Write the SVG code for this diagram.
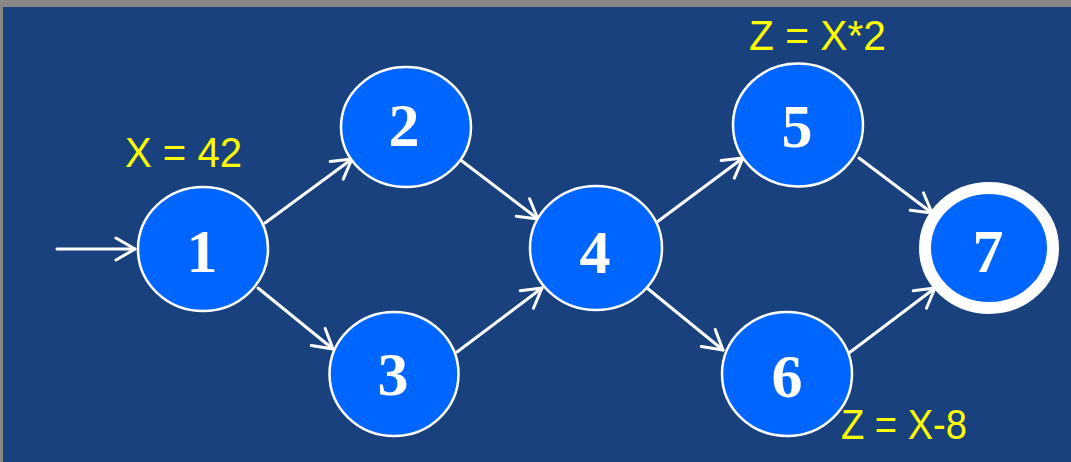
<svg xmlns="http://www.w3.org/2000/svg" width="1071" height="462" viewBox="0 0 1071 462">
  <style>
    .node ellipse { fill: #0066ff; stroke: #ffffff; stroke-width: 2.5; }
    .node.final ellipse { stroke-width: 12; }
    .node text { font-family: "Liberation Serif", "Times New Roman", serif; font-weight: bold; font-size: 62px; fill: #ffffff; text-anchor: middle; }
    .edges line { stroke: #ffffff; stroke-width: 3; stroke-linecap: round; }
    .note { font-family: "Liberation Sans", Arial, sans-serif; font-size: 42px; fill: #ffff00; }
  </style>
  <defs>
    <marker id="arrow" markerUnits="userSpaceOnUse" viewBox="-22 -14 26 28" markerWidth="26" markerHeight="28" refX="0" refY="0" orient="auto" overflow="visible">
      <path d="M-19,-11 L0,0 L-19,11" fill="none" stroke="#ffffff" stroke-width="3" stroke-linecap="round" stroke-linejoin="round"/>
    </marker>
  </defs>

  <!-- frame and background -->
  <rect x="0" y="0" width="1071" height="462" fill="#888888"/>
  <rect x="3" y="7" width="1068" height="455" fill="#18417e"/>

  <!-- connectors -->
  <g class="edges" marker-end="url(#arrow)">
    <line x1="57" y1="249" x2="135" y2="249" marker-end="url(#arrow)"/>
    <line x1="265" y1="223" x2="352" y2="159" marker-end="url(#arrow)"/>
    <line x1="258" y1="288" x2="333" y2="349" marker-end="url(#arrow)"/>
    <line x1="458" y1="158" x2="538" y2="219" marker-end="url(#arrow)"/>
    <line x1="457" y1="352" x2="542" y2="288" marker-end="url(#arrow)"/>
    <line x1="657" y1="222" x2="743" y2="158" marker-end="url(#arrow)"/>
    <line x1="647" y1="288" x2="723" y2="350" marker-end="url(#arrow)"/>
    <line x1="859" y1="158" x2="932" y2="213" marker-end="url(#arrow)"/>
    <line x1="849" y1="353" x2="935" y2="288" marker-end="url(#arrow)"/>
  </g>

  <!-- states -->
  <g id="node1" class="node">
    <ellipse cx="203" cy="249" rx="65" ry="62"/>
    <text x="202" y="272">1</text>
  </g>
  <g id="node2" class="node">
    <ellipse cx="406" cy="127" rx="65" ry="60"/>
    <text x="404" y="146">2</text>
  </g>
  <g id="node3" class="node">
    <ellipse cx="394" cy="374" rx="64.5" ry="62"/>
    <text x="393" y="395">3</text>
  </g>
  <g id="node4" class="node">
    <ellipse cx="596" cy="248" rx="66" ry="62"/>
    <text x="595" y="273">4</text>
  </g>
  <g id="node5" class="node">
    <ellipse cx="798" cy="125" rx="65" ry="61.5"/>
    <text x="797" y="147">5</text>
  </g>
  <g id="node6" class="node">
    <ellipse cx="787" cy="374" rx="65" ry="62"/>
    <text x="787" y="397">6</text>
  </g>
  <g id="node7" class="node final">
    <ellipse cx="989" cy="248" rx="64" ry="60"/>
    <text x="988" y="272">7</text>
  </g>

  <!-- annotations -->
  <text class="note" x="125" y="167" textLength="117" lengthAdjust="spacingAndGlyphs">X = 42</text>
  <text class="note" x="749" y="50" textLength="137" lengthAdjust="spacingAndGlyphs">Z = X*2</text>
  <text class="note" x="841" y="439" textLength="126" lengthAdjust="spacingAndGlyphs">Z = X-8</text>
</svg>
